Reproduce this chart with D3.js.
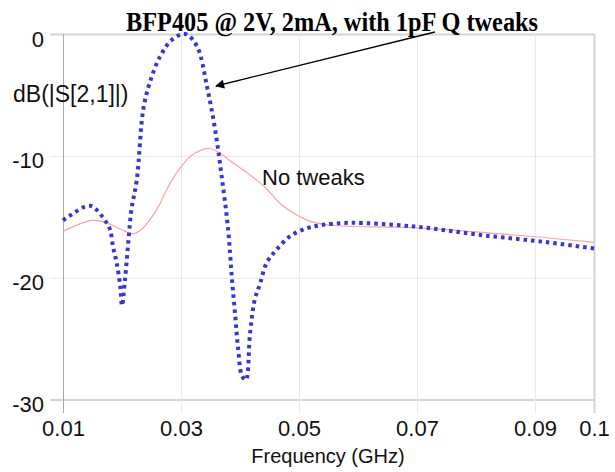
<!DOCTYPE html>
<html>
<head>
<meta charset="utf-8">
<script src="https://cdn.jsdelivr.net/npm/d3@7"></script>
<style>
  body { margin: 0; background: #fff; }
  svg { display: block; }
</style>
</head>
<body>
<div id="graph"></div>
<script>
// frequency (GHz) and dB values
var tweakFreq = [0.0100, 0.0112, 0.0146, 0.0174, 0.0180, 0.0185, 0.0191, 0.0197, 0.0200,
  0.0205, 0.0211, 0.0216, 0.0225, 0.0236, 0.0247, 0.0264, 0.0284, 0.0307, 0.0327,
  0.0344, 0.0358, 0.0369, 0.0380, 0.0386, 0.0392, 0.0397, 0.0403, 0.0410,
  0.0417, 0.0425, 0.0434, 0.0445, 0.0462, 0.0485, 0.0510, 0.0536, 0.0586,
  0.0695, 0.0808, 0.0922, 0.1000];
var tweakDb = [-15.3, -14.9, -14.1, -15.5, -16.1, -17.5, -18.8, -20.7, -22.3,
  -20.2, -16.9, -14.4, -12.0, -6.2, -4.0, -1.9, -0.5, 0.0, -1.0,
  -4.3, -7.9, -11.7, -16.1, -19.9, -23.2, -25.9, -28.0, -28.4,
  -24.6, -21.8, -20.5, -18.8, -17.7, -16.6, -16.0, -15.7, -15.5,
  -15.8, -16.5, -17.1, -17.6];

var plainFreq = [0.0100, 0.0149, 0.0174, 0.0197, 0.0219, 0.0236, 0.0259, 0.0281,
  0.0300, 0.0320, 0.0349, 0.0389, 0.0423, 0.0445, 0.0470, 0.0515, 0.0553, 0.0695, 0.0865, 0.1000];
var plainDb = [-16.2, -15.3, -15.5, -16.0, -16.4, -15.9, -14.4, -12.3,
  -10.9, -9.9, -9.4, -10.6, -11.8, -12.7, -14.0, -15.3, -15.7, -15.9, -16.5, -17.1];

var xTicks = [0.01, 0.03, 0.05, 0.07, 0.09, 0.1];
var xTickLabels = ["0.01", "0.03", "0.05", "0.07", "0.09", "0.1"];
var yTicks = [0, -10, -20, -30];

(function(){
  "use strict";
  var width = 615, height = 472;
  var left = 63, right = 594, top = 34, bottom = 399.5;
  var font = "'Liberation Sans', Arial, sans-serif";

  var svg = d3.select("#graph").append("svg")
    .attr("width", width)
    .attr("height", height);

  var x = d3.scaleLinear().domain([0.01, 0.1]).range([left, right]);
  var y = d3.scaleLinear().domain([-30, 0]).range([bottom, top]);

  // y axis with grid lines
  var yAxis = svg.append("g")
    .attr("transform", "translate(" + left + ",0)")
    .call(d3.axisLeft(y).tickValues(yTicks).tickSize(0).tickFormat(function(d){ return String(d); }));
  yAxis.select(".domain").remove();
  yAxis.selectAll(".tick line")
    .attr("x1", -13)
    .attr("x2", right - left)
    .attr("stroke", function(d){ return d === -30 ? "#a8a8a8" : (d === 0 ? "#d4d4d4" : "#e8e8e8"); })
    .attr("stroke-width", function(d){ return d === 0 ? 2 : 1; });
  yAxis.selectAll(".tick text")
    .attr("x", -19)
    .attr("dy", null)
    .attr("y", 12)
    .attr("fill", "#111")
    .style("font", "22px " + font);

  // x axis with grid lines
  var xAxis = svg.append("g")
    .attr("transform", "translate(0," + bottom + ")")
    .call(d3.axisBottom(x).tickValues(xTicks).tickSize(0)
      .tickFormat(function(d, i){ return xTickLabels[i]; }));
  xAxis.select(".domain").remove();
  xAxis.selectAll(".tick line")
    .attr("y1", top - bottom)
    .attr("y2", 13.5)
    .attr("stroke", function(d){ return d === 0.01 ? "#a8a8a8" : (d === 0.1 ? "#d4d4d4" : "#e8e8e8"); })
    .attr("stroke-width", function(d){ return d === 0.1 ? 2 : 1; });
  xAxis.selectAll(".tick text")
    .attr("dy", null)
    .attr("y", 36)
    .attr("fill", "#111")
    .style("font", "22px " + font);

  var line = d3.line()
    .x(function(d){ return x(d[0]); })
    .y(function(d){ return y(d[1]); })
    .curve(d3.curveCatmullRom.alpha(0.5));

  svg.append("path")
    .attr("d", line(d3.zip(plainFreq, plainDb)))
    .attr("fill", "none")
    .attr("stroke", "#ffa0a0")
    .attr("stroke-width", 1.2);

  svg.append("path")
    .attr("d", line(d3.zip(tweakFreq, tweakDb)))
    .attr("fill", "none")
    .attr("stroke", "#3636d2")
    .attr("stroke-width", 4)
    .attr("stroke-dasharray", "3.5,4");

  // title and labels
  svg.append("text")
    .attr("x", 332).attr("y", 31)
    .attr("text-anchor", "middle")
    .attr("fill", "#000")
    .attr("textLength", 412)
    .attr("lengthAdjust", "spacingAndGlyphs")
    .style("font", "bold 27px 'Liberation Serif', 'Times New Roman', serif")
    .text("BFP405 @ 2V, 2mA, with 1pF Q tweaks");

  svg.append("text")
    .attr("x", 13).attr("y", 102)
    .attr("fill", "#111")
    .style("font", "23px " + font)
    .text("dB(|S[2,1]|)");

  svg.append("text")
    .attr("x", 262).attr("y", 185)
    .attr("fill", "#111")
    .style("font", "22px " + font)
    .text("No tweaks");

  svg.append("text")
    .attr("x", 328).attr("y", 463)
    .attr("text-anchor", "middle")
    .attr("fill", "#111")
    .style("font", "20px " + font)
    .text("Frequency (GHz)");

  // arrow pointing at the tweaked curve
  svg.append("defs").append("marker")
    .attr("id", "head")
    .attr("viewBox", "0 0 10 10")
    .attr("refX", 9).attr("refY", 5)
    .attr("markerWidth", 12).attr("markerHeight", 9)
    .attr("markerUnits", "userSpaceOnUse")
    .attr("orient", "auto")
    .append("path")
    .attr("d", "M0,0 L10,5 L0,10 z")
    .attr("fill", "#000");

  svg.append("line")
    .attr("x1", 435).attr("y1", 32)
    .attr("x2", 216).attr("y2", 86)
    .attr("stroke", "#000")
    .attr("stroke-width", 1.3)
    .attr("marker-end", "url(#head)");
})();
</script>
</body>
</html>
